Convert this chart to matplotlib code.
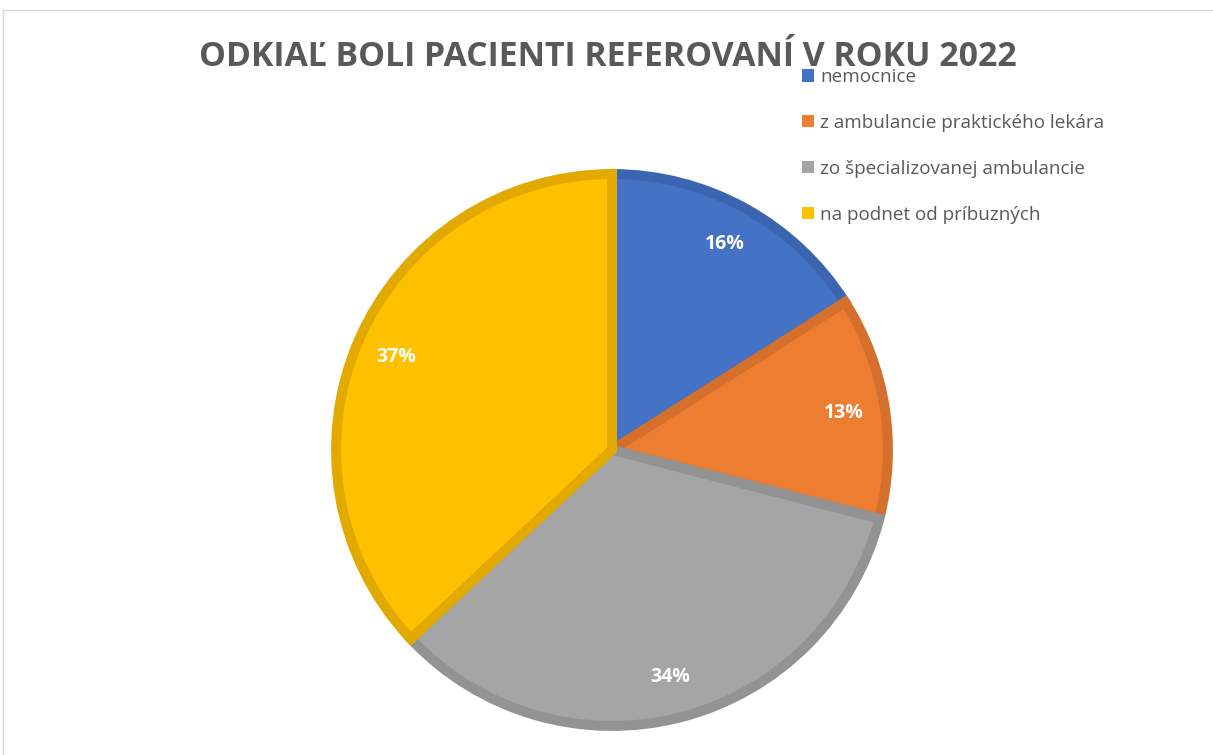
import matplotlib.pyplot as plt
from matplotlib.patches import Patch
from matplotlib.lines import Line2D

TITLE = "ODKIAĽ BOLI PACIENTI REFEROVANÍ V ROKU 2022"
labels = ["nemocnice", "z ambulancie praktického lekára",
          "zo špecializovanej ambulancie", "na podnet od príbuzných"]
shares = [16, 13, 34, 37]
fills = ["#4472C4", "#ED7D31", "#A5A5A5", "#FFC000"]
edges = ["#3B65B0", "#D4702C", "#939393", "#E2AA00"]

W, H = 1213, 755
plt.rcParams["font.family"] = ["Open Sans", "DejaVu Sans"]

fig = plt.figure(figsize=(W / 100, H / 100), dpi=100)
ax = fig.add_axes([0, 0, 1, 1])

# pie centre at (612, 450) px, radius unit = 281 px
cx, cy, s = 612, 450, 281

wedges, texts, autotexts = ax.pie(
    shares, colors=fills, startangle=90, counterclock=False, radius=0.982,
    autopct="%d%%", pctdistance=0.85,
    wedgeprops=dict(linewidth=7.2, joinstyle="miter"),
    textprops=dict(color="white", fontsize=14, fontweight="bold"),
)
for w, ec in zip(wedges, edges):
    w.set_edgecolor(ec)
ax.set_xlim(-cx / s, (W - cx) / s)
ax.set_ylim(-(H - cy) / s, cy / s)
ax.set_aspect("equal")
ax.axis("off")

fig.text(608 / W, 1 - 57 / H, TITLE, ha="center", va="center",
         fontsize=24.3, fontweight="bold", color="#595959")

handles = [Patch(facecolor=c, edgecolor="none") for c in fills]
fig.legend(handles, labels, loc="upper left",
           bbox_to_anchor=(802 / W, 1 - 68 / H), frameon=False,
           fontsize=13.6, labelcolor="#595959", handlelength=0.63,
           handleheight=0.63, handletextpad=0.32, labelspacing=1.48,
           borderpad=0, borderaxespad=0)

# chart area border
fig.add_artist(Line2D([3 / W, 1], [1 - 10 / H, 1 - 10 / H], color="#D9D9D9", lw=1))
fig.add_artist(Line2D([3 / W, 3 / W], [0, 1 - 10 / H], color="#D9D9D9", lw=1))

fig.savefig("out.png", dpi=100)
